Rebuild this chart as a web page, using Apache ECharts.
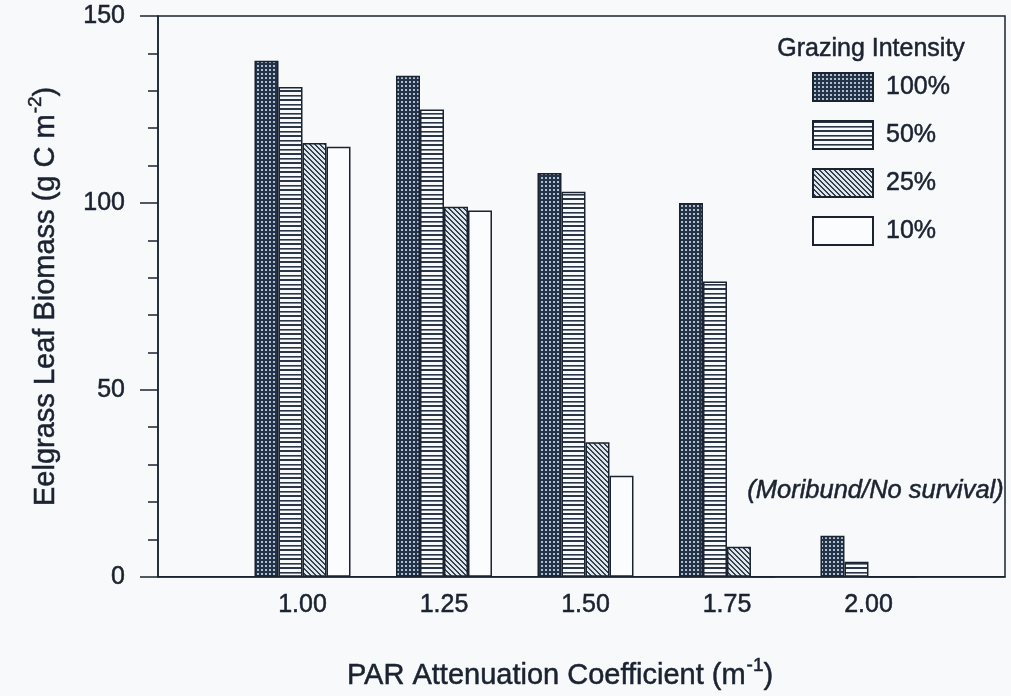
<!DOCTYPE html>
<html>
<head>
<meta charset="utf-8">
<title>Eelgrass Leaf Biomass vs PAR Attenuation</title>
<script src="https://cdn.jsdelivr.net/npm/echarts@6/dist/echarts.min.js"></script>
<style>
  html, body { margin: 0; padding: 0; background: #f7f9fa; }
  #chart { width: 1011px; height: 696px; }
</style>
</head>
<body>
<div id="chart"></div>
<script>
// PAR attenuation coefficients (m^-1)
const coefficients = [1.00, 1.25, 1.50, 1.75, 2.00];
// Leaf biomass (g C m^-2) per grazing intensity, one value per coefficient
const grazing100 = [138, 134, 108, 100, 11];
const grazing50  = [131, 125, 103, 79, 4];
const grazing25  = [116, 99, 36, 8, 0];
const grazing10  = [115, 98, 27, 0, 0];
const seriesNames = ['100%', '50%', '25%', '10%'];
const yTicks = [0, 50, 100, 150];

const INK = '#1b2331';
const FONT = "'Liberation Sans', Arial, Helvetica, sans-serif";
const STROKE = { textBorderColor: INK, textBorderWidth: 0.5 };

// Small tiles used as fill patterns for the bars
function tile(w, h, draw) {
  const c = document.createElement('canvas');
  c.width = w; c.height = h;
  draw(c.getContext('2d'), w, h);
  return { image: c, repeat: 'repeat' };
}
const dotFill = tile(4, 4, (g) => {
  g.fillStyle = '#24324a'; g.fillRect(0, 0, 4, 4);
  g.fillStyle = '#aebfca'; g.fillRect(1, 1, 2, 2);
});
const hLineFill = tile(4, 9, (g) => {
  g.fillStyle = '#f7f9fa'; g.fillRect(0, 0, 4, 9);
  g.fillStyle = '#2a3647'; g.fillRect(0, 0, 4, 2); g.fillRect(0, 5, 4, 1.6);
});
const diagFill = tile(5, 5, (g) => {
  g.fillStyle = '#dfe6ea'; g.fillRect(0, 0, 5, 5);
  g.fillStyle = '#334152';
  for (let y = 0; y < 5; y++) {
    for (let x = 0; x < 5; x++) {
      const d = ((x - y) % 5 + 5) % 5;
      if (d === 0 || d === 1) g.fillRect(x, y, 1, 1);
    }
  }
});
const fills = [dotFill, hLineFill, diagFill, '#fbfcfd'];
const values = [grazing100, grazing50, grazing25, grazing10];

const richAxisName = {
  t: Object.assign({ fontSize: 29, fontFamily: FONT, color: INK, lineHeight: 34, verticalAlign: 'bottom' }, STROKE),
  s: Object.assign({ fontSize: 19, fontFamily: FONT, color: INK, lineHeight: 34, verticalAlign: 'top', padding: [0, 0, 0, 1] }, STROKE)
};

const chart = echarts.init(document.getElementById('chart'), null, { renderer: 'canvas' });

chart.setOption({
  backgroundColor: '#f7f9fa',
  animation: false,
  textStyle: { fontFamily: FONT, color: INK },
  grid: {
    left: 158, right: 6, top: 16, bottom: 119,
    show: true, borderColor: INK, borderWidth: 1.5, backgroundColor: 'transparent'
  },
  legend: {
    orient: 'vertical',
    left: 807, top: 67,
    itemWidth: 60, itemHeight: 28, itemGap: 18,
    icon: 'rect',
    data: seriesNames,
    textStyle: Object.assign({ fontFamily: FONT, fontSize: 25, color: INK, padding: [6, 0, 0, 8] }, STROKE)
  },
  xAxis: {
    type: 'value',
    min: 0.7447, max: 2.2412,
    axisLine: { show: true, onZero: false, lineStyle: { color: INK, width: 1.5 } },
    axisTick: { show: false },
    axisLabel: Object.assign({
      fontSize: 25, color: INK, margin: 16, fontFamily: FONT,
      customValues: coefficients,
      formatter: (v) => v.toFixed(2)
    }, STROKE),
    splitLine: { show: false },
    name: '{t|PAR Attenuation Coefficient (m}{s|-1}{t|)}',
    nameLocation: 'middle',
    nameGap: 80,
    nameTextStyle: { padding: [0, 43, 0, 0], rich: richAxisName }
  },
  yAxis: {
    type: 'value',
    min: yTicks[0], max: yTicks[yTicks.length - 1], interval: 50,
    axisLine: { show: true, lineStyle: { color: INK, width: 1.5 } },
    axisTick: { show: true, length: 18, lineStyle: { color: INK, width: 1.5 } },
    minorTick: { show: true, splitNumber: 5, length: 10, lineStyle: { color: INK, width: 1.5 } },
    axisLabel: Object.assign({ fontSize: 25, color: INK, margin: 33, fontFamily: FONT }, STROKE),
    splitLine: { show: false },
    name: '{t|Eelgrass Leaf Biomass (g C m}{s|-2}{t|)}',
    nameLocation: 'middle',
    nameGap: 98,
    nameTextStyle: { rich: richAxisName }
  },
  graphic: [
    {
      type: 'text', left: 777, top: 36,
      style: { text: 'Grazing Intensity', font: '25px ' + FONT, fill: INK, stroke: INK, lineWidth: 0.5 }
    },
    {
      type: 'text', right: 7, top: 478,
      style: { text: '(Moribund/No survival)', font: 'italic 25.5px ' + FONT, fill: INK, stroke: INK, lineWidth: 0.5 }
    }
  ],
  series: seriesNames.map((name, i) => ({
    name,
    type: 'bar',
    data: coefficients.map((c, j) => [c, values[i][j]]),
    barWidth: 24,
    barGap: '0%',
    itemStyle: { color: fills[i], borderColor: INK, borderWidth: 1.5 }
  }))
});
</script>
</body>
</html>
